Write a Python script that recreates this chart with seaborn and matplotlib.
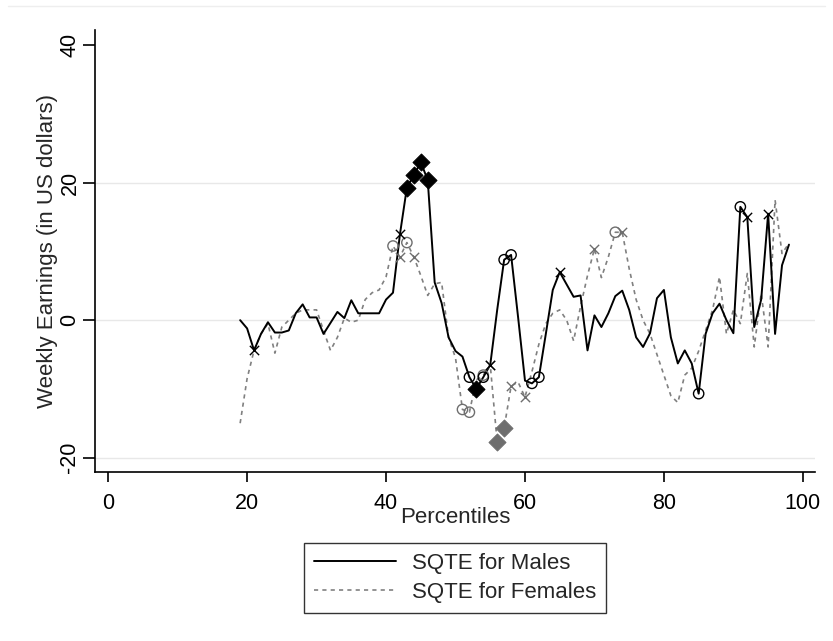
import matplotlib
matplotlib.use("Agg")
import matplotlib.pyplot as plt
import pandas as pd
import seaborn as sns
from matplotlib.lines import Line2D

# percentiles of the earnings distribution
percentiles = list(range(19, 99))

# SQTE estimates (weekly earnings, US dollars)
sqte_males = [
    0.0, -1.2, -4.4, -2.0, -0.3, -1.8, -1.8, -1.5, 1.0, 2.3,
    0.4, 0.4, -2.0, -0.4, 1.2, 0.3, 2.9, 1.0, 1.0, 1.0,
    1.0, 3.0, 4.0, 12.5, 19.3, 21.1, 23.0, 20.4, 5.5, 2.5,
    -2.5, -4.5, -5.3, -8.3, -10.0, -8.3, -6.5, 1.5, 8.8, 9.5,
    0.5, -8.8, -9.2, -8.3, -2.0, 4.4, 7.0, 5.2, 3.4, 3.6,
    -4.4, 0.7, -1.0, 1.0, 3.5, 4.3, 1.5, -2.5, -3.9, -1.9,
    3.2, 4.4, -2.5, -6.3, -4.4, -6.3, -10.7, -2.0, 1.0, 2.4,
    0.0, -1.9, 16.5, 15.0, -1.0, 3.0, 15.5, -2.0, 8.0, 11.0,
]
sqte_females = [
    -15.0, -8.5, -4.4, -2.0, -0.5, -4.8, -1.0, 0.0, 1.0, 1.5,
    1.5, 1.5, -1.5, -4.4, -2.5, 0.3, -0.3, 0.0, 3.0, 4.0,
    4.4, 6.3, 10.8, 9.2, 11.3, 9.2, 6.5, 3.6, 5.3, 5.5,
    -2.5, -5.5, -13.0, -13.4, -8.7, -8.0, -6.5, -17.8, -15.7, -9.6,
    -9.0, -11.2, -7.5, -3.5, -0.5, 1.0, 1.5, 0.0, -3.0, 2.0,
    6.5, 10.4, 6.2, 9.2, 12.8, 12.8, 7.5, 3.0, 0.0, -2.0,
    -5.0, -8.0, -11.0, -12.0, -8.0, -7.0, -4.5, -1.5, 1.5, 6.3,
    -2.0, 1.5, -0.5, 6.8, -3.9, 3.9, -3.9, 17.5, 9.7, 11.2,
]

# percentiles flagged with markers (significance levels)
males_diamond = [43, 44, 45, 46, 53]
males_circle = [52, 54, 57, 58, 61, 62, 85, 91]
males_cross = [21, 42, 55, 65, 92, 95]
females_diamond = [56, 57]
females_circle = [41, 43, 51, 52, 54, 73]
females_cross = [42, 44, 55, 58, 60, 70, 74]

x_ticks = [0, 20, 40, 60, 80, 100]
y_ticks = [-20, 0, 20, 40]

df = pd.DataFrame({"pct": percentiles, "males": sqte_males, "females": sqte_females})

sns.set_theme(style="white")
plt.rcParams["font.family"] = ["Liberation Sans", "DejaVu Sans"]

fig = plt.figure(figsize=(8.33, 6.41), dpi=100)
ax = fig.add_axes([0.114, 0.2637, 0.864, 0.689])

male_color = "black"
female_color = "#6e6e6e"

for yv in [-20, 0, 20]:
    ax.axhline(yv, color="#e8e8e8", lw=1.0, zorder=0)

sns.lineplot(data=df, x="pct", y="females", color="#808080", lw=1.2,
             linestyle=(0, (2.5, 2.5)), ax=ax, zorder=2)
sns.lineplot(data=df, x="pct", y="males", color=male_color, lw=1.4, ax=ax, zorder=3)


def pick(col, pcts):
    return df[df["pct"].isin(pcts)][["pct", col]]


sub = pick("females", females_circle)
sns.scatterplot(x=sub["pct"], y=sub["females"], marker="o", s=55, facecolor="none",
                edgecolor=female_color, linewidth=1.0, ax=ax, zorder=4)
sub = pick("females", females_cross)
sns.scatterplot(x=sub["pct"], y=sub["females"], marker="x", s=45, color=female_color,
                linewidth=1.0, ax=ax, zorder=4)
sub = pick("females", females_diamond)
sns.scatterplot(x=sub["pct"], y=sub["females"], marker="D", s=75, color=female_color,
                edgecolor=female_color, ax=ax, zorder=4)

sub = pick("males", males_circle)
sns.scatterplot(x=sub["pct"], y=sub["males"], marker="o", s=55, facecolor="none",
                edgecolor=male_color, linewidth=1.0, ax=ax, zorder=5)
sub = pick("males", males_cross)
sns.scatterplot(x=sub["pct"], y=sub["males"], marker="x", s=45, color=male_color,
                linewidth=1.0, ax=ax, zorder=5)
sub = pick("males", males_diamond)
sns.scatterplot(x=sub["pct"], y=sub["males"], marker="D", s=75, color=male_color,
                edgecolor=male_color, ax=ax, zorder=5)

ax.set_xlim(-1.9, 101.7)
ax.set_ylim(-22.1, 42.2)
ax.set_xticks(x_ticks)
ax.set_yticks(y_ticks)
ax.set_yticklabels([str(v) for v in y_ticks], rotation=90, va="center")
ax.tick_params(axis="both", direction="out", length=7, width=1.2, color="black",
               labelsize=15.5, labelcolor="black", left=True, bottom=True)
ax.tick_params(axis="x", pad=8)
ax.tick_params(axis="y", length=9, pad=1.5)
sns.despine(ax=ax)
for side in ["left", "bottom"]:
    ax.spines[side].set_color("black")
    ax.spines[side].set_linewidth(1.2)

ax.set_xlabel("Percentiles", fontsize=16, labelpad=-5)
ax.set_ylabel("Weekly Earnings (in US dollars)", fontsize=16, labelpad=1)

handles = [
    Line2D([], [], color=male_color, lw=1.4),
    Line2D([], [], color="#808080", lw=1.2, linestyle=(0, (2.5, 2.5))),
]
leg = fig.legend(handles, ["SQTE for Males", "SQTE for Females"], loc="upper center",
                 bbox_to_anchor=(455 / 833, 1 - 543 / 641), fontsize=16,
                 frameon=True, fancybox=False, handlelength=3.7, handletextpad=0.7,
                 borderpad=0.45, labelspacing=0.35, borderaxespad=0)
leg.get_frame().set_edgecolor("black")
leg.get_frame().set_linewidth(1.0)

fig.add_artist(Line2D([0.01, 0.99], [1 - 6 / 641, 1 - 6 / 641], color="#eeeeee", lw=1.0))

fig.savefig("out.png", dpi=100, facecolor="white")
